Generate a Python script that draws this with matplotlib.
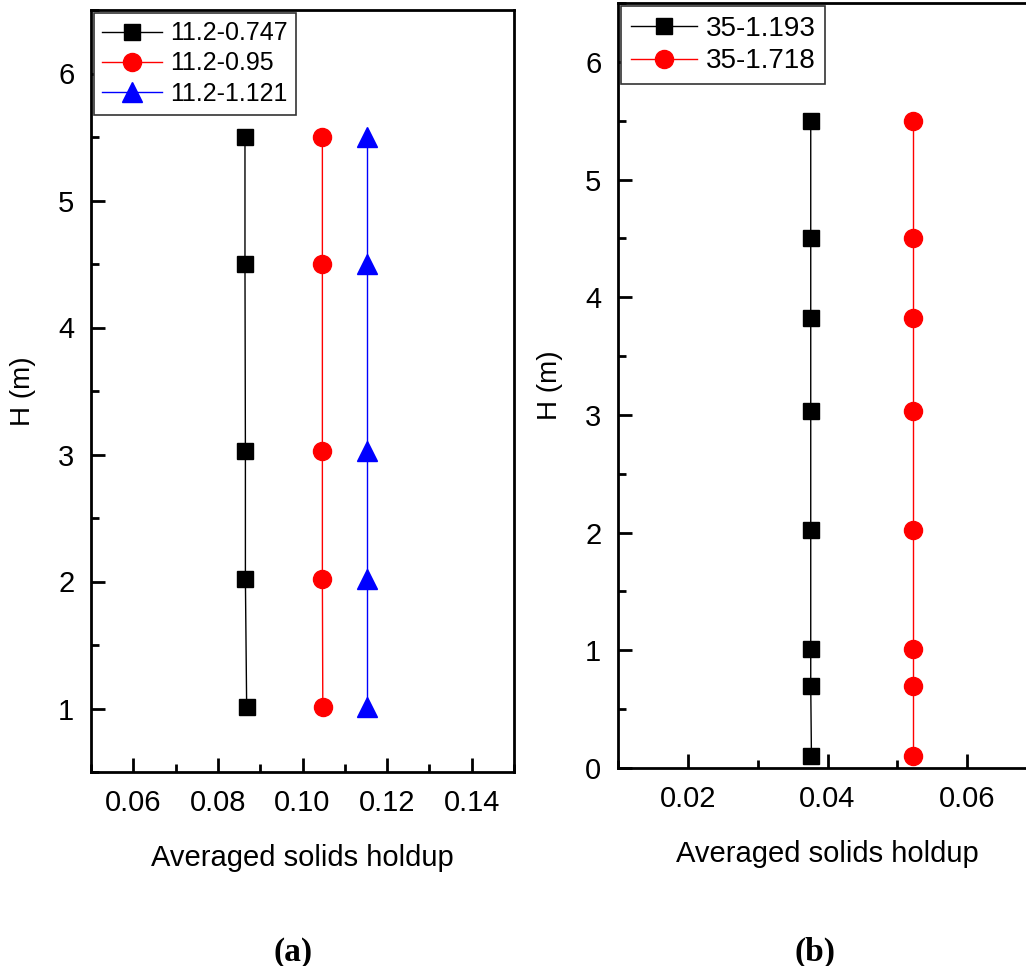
import matplotlib
matplotlib.use("Agg")
import matplotlib.pyplot as plt
from matplotlib.ticker import MultipleLocator

plt.rcParams['font.family'] = ['Liberation Sans', 'DejaVu Sans']

# Panel (a)
h_a = [5.5, 4.5, 3.03, 2.02, 1.01]
a_0747 = [0.0864, 0.0864, 0.0865, 0.0865, 0.0868]
a_095 = [0.1047, 0.1047, 0.1047, 0.1047, 0.1048]
a_1121 = [0.1153, 0.1153, 0.1153, 0.1153, 0.1153]
labels_a = ['11.2-0.747', '11.2-0.95', '11.2-1.121']

# Panel (b)
h_b = [5.5, 4.5, 3.82, 3.03, 2.02, 1.01, 0.7, 0.1]
b_1193 = [0.0376, 0.0376, 0.0376, 0.0376, 0.0376, 0.0376, 0.0376, 0.0377]
b_1718 = [0.0523, 0.0523, 0.0523, 0.0523, 0.0523, 0.0523, 0.0523, 0.0523]
labels_b = ['35-1.193', '35-1.718']

fig = plt.figure(figsize=(10.26, 9.66), dpi=100)
axa = fig.add_axes([91/1026, 1-772/966, 423/1026, 762/966])
axb = fig.add_axes([618/1026, 1-768/966, 419/1026, 765/966])

axa.plot(a_0747, h_a, color='black', lw=1, marker='s', ms=11, label=labels_a[0])
axa.plot(a_095, h_a, color='red', lw=1, marker='o', ms=13, label=labels_a[1])
axa.plot(a_1121, h_a, color='blue', lw=1, marker='^', ms=14, label=labels_a[2])
axa.set_xlim(0.05, 0.15)
axa.set_ylim(0.5, 6.5)
axa.set_xticks([0.06, 0.08, 0.10, 0.12, 0.14])
axa.set_xticklabels(['0.06', '0.08', '0.10', '0.12', '0.14'])
axa.xaxis.set_minor_locator(MultipleLocator(0.01))
axa.set_yticks([1, 2, 3, 4, 5, 6])
axa.yaxis.set_minor_locator(MultipleLocator(0.5))

axb.plot(b_1193, h_b, color='black', lw=1, marker='s', ms=11.5, label=labels_b[0])
axb.plot(b_1718, h_b, color='red', lw=1, marker='o', ms=13, label=labels_b[1])
axb.set_xlim(0.01, 0.07)
axb.set_ylim(0, 6.5)
axb.set_xticks([0.02, 0.04, 0.06])
axb.set_xticklabels(['0.02', '0.04', '0.06'])
axb.xaxis.set_minor_locator(MultipleLocator(0.01))
axb.set_yticks([0, 1, 2, 3, 4, 5, 6])
axb.yaxis.set_minor_locator(MultipleLocator(0.5))

for ax, fs in ((axa, 18), (axb, 20)):
    for s in ax.spines.values():
        s.set_linewidth(2)
    ax.tick_params(which='both', direction='in', top=False, right=False,
                   labelsize=21, width=2, pad=12)
    ax.tick_params(which='major', length=10)
    ax.tick_params(which='minor', length=6)
    ax.set_xlabel('Averaged solids holdup', fontsize=21, labelpad=20)
    ax.set_ylabel('H (m)', fontsize=20, labelpad=16)
    leg = ax.legend(loc='upper left', fontsize=fs, frameon=True, fancybox=False,
                    borderaxespad=0.1, handlelength=2.4, handletextpad=0.3,
                    borderpad=0.35, labelspacing=0.25, framealpha=1)
    leg.get_frame().set_edgecolor('#333333')
    leg.get_frame().set_linewidth(1.2)

fig.text(293/1026, 1-952/966, '(a)', ha='center', va='center',
         fontsize=24, fontweight='bold', family='Liberation Serif')
fig.text(815/1026, 1-952/966, '(b)', ha='center', va='center',
         fontsize=24, fontweight='bold', family='Liberation Serif')

fig.savefig('out.png', dpi=100)
